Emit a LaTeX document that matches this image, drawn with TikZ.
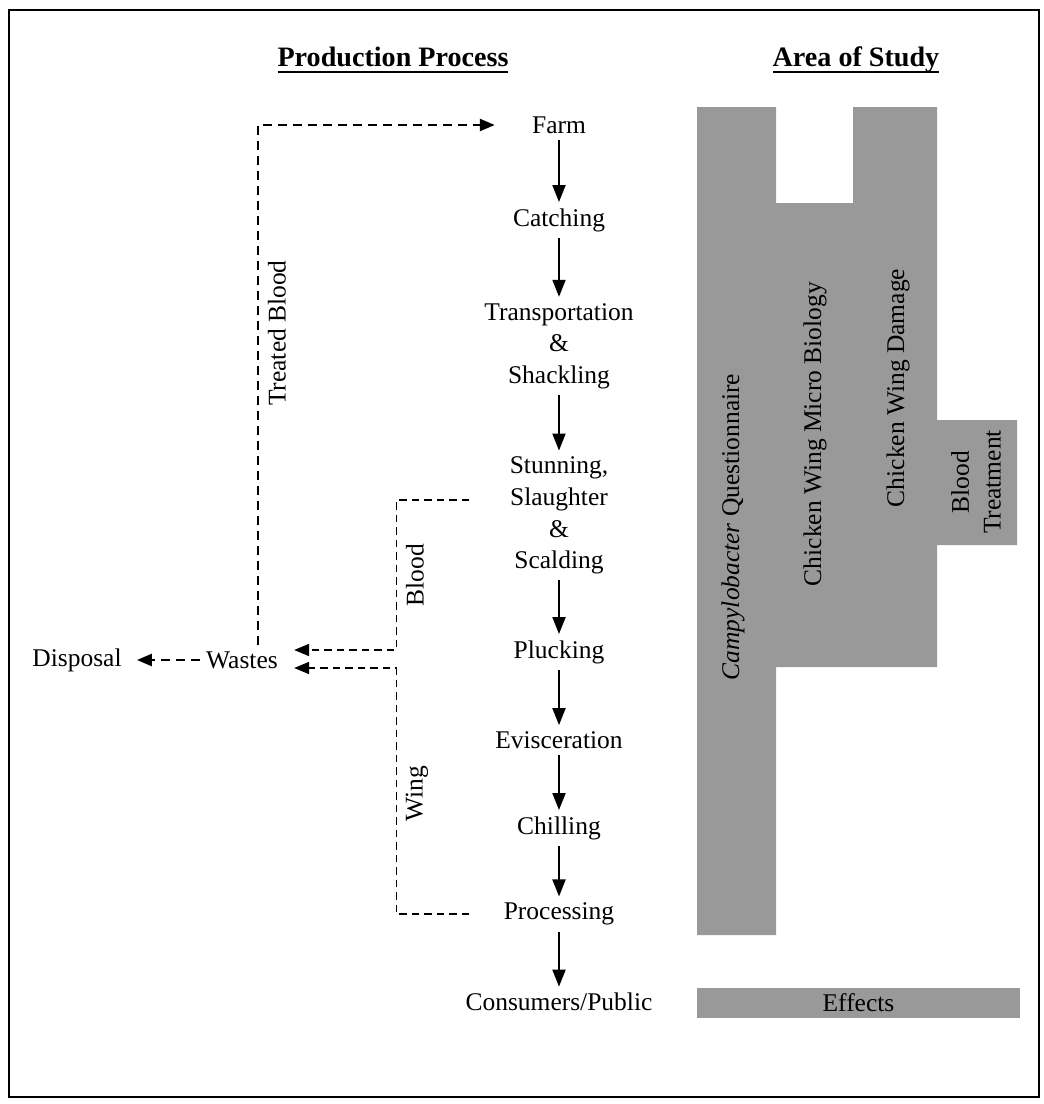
\documentclass[tikz,border=0pt]{standalone}
\usepackage{fontspec}
\setmainfont{Liberation Serif}
\usetikzlibrary{calc}
\usetikzlibrary{positioning}
\usetikzlibrary{arrows.meta}
\tikzstyle{stepnode} = [align=center, font=\fontsize{14.5}{18}\selectfont, inner sep=0.12cm]
\tikzstyle{headnode} = [font=\fontsize{16}{19}\selectfont\bfseries, inner sep=0pt]
\tikzstyle{flowarrow} = [line width=1.1pt, >={Triangle[length=0.34cm,width=0.26cm]}, ->]
\tikzstyle{wastearrow} = [line width=1.5pt, dash pattern=on 0.18cm off 0.12cm, >={Triangle[length=0.3cm,width=0.24cm]}, ->]
\tikzstyle{sidelabel} = [stepnode, rotate=90, anchor=north, inner sep=0.17cm]
\tikzstyle{studyarea} = [fill=black!40]
\tikzstyle{studytext} = [stepnode, rotate=90]
\newcommand{\headul}[1]{\setbox0=\hbox{#1}\rlap{\rule[-3.5pt]{\wd0}{1.3pt}}\box0}

\begin{document}
\begin{tikzpicture}
    \useasboundingbox (0,0) rectangle (20.86,-22.08);
    \draw[line width=1.2pt] (0.18,-0.2) rectangle (20.78,-21.94);

    \node[headnode] (prod_head) at (7.86,-1.2) {\headul{Production Process}};
    \node[headnode] (area_head) at (17.12,-1.2) {\headul{Area of Study}};

    \node[stepnode] (proc_farm) at (11.18,-2.5) {Farm};
    \node[stepnode] (proc_catch) at ($(proc_farm)+(0,-1.9)$) {Catching};
    \node[stepnode] (proc_transport) at ($(proc_catch)+(0,-2.52)$) {Transportation\\\&\\Shackling};
    \node[stepnode] (proc_stun) at ($(proc_transport)+(0,-3.39)$) {Stunning,\\Slaughter\\\&\\Scalding};
    \node[stepnode] (proc_pluck) at ($(proc_stun)+(0,-2.73)$) {Plucking};
    \node[stepnode] (proc_evisc) at ($(proc_pluck)+(0,-1.76)$) {Evisceration};
    \node[stepnode] (proc_chill) at ($(proc_evisc)+(0,-1.76)$) {Chilling};
    \node[stepnode] (proc_processing) at ($(proc_chill)+(0,-1.72)$) {Processing};
    \node[stepnode] (proc_public) at ($(proc_processing)+(0,-1.76)$) {Consumers/Public};
    \draw[flowarrow] (proc_farm) -- (proc_catch);
    \draw[flowarrow] (proc_catch) -- (proc_transport);
    \draw[flowarrow] (proc_transport) -- (proc_stun);
    \draw[flowarrow] (proc_stun) -- (proc_pluck);
    \draw[flowarrow] (proc_pluck) -- (proc_evisc);
    \draw[flowarrow] (proc_evisc) -- (proc_chill);
    \draw[flowarrow] (proc_chill) -- (proc_processing);
    \draw[flowarrow] (proc_processing) -- (proc_public);

    \node[stepnode] (waste_wastes) at (4.84,-13.2) {Wastes};
    \node[stepnode] (waste_disposal) at ($(waste_wastes)+(-3.3,0)$) {Disposal};
    \coordinate (blood_out) at ($(proc_stun.west)+(-0.68,0.31)$);
    \coordinate (wing_out) at ($(proc_processing.west)+(-0.56,0)$);
    \draw[wastearrow] (waste_wastes.west) -- ([xshift=0.18cm]waste_disposal.east);
    \draw[wastearrow] ([xshift=0.32cm]waste_wastes.north) |- node[sidelabel, pos=0.3] {Treated Blood} ([xshift=-0.62cm]proc_farm.west);
    \draw[wastearrow, line width=1pt, dash pattern=on 0.15cm off 0.1cm] (blood_out) -- ++(-1.46,0) |- node[sidelabel, pos=0.25] {Blood} ($(waste_wastes.east)+(0.2,0.2)$);
    \draw[wastearrow, line width=1pt, dash pattern=on 0.15cm off 0.1cm] (wing_out) -- ++(-1.46,0) |- node[sidelabel, pos=0.245] {Wing} ($(waste_wastes.east)+(0.2,-0.16)$);

    \fill[studyarea] (13.94,-2.14) -- (15.52,-2.14) -- (15.52,-4.06) -- (17.06,-4.06) -- (17.06,-2.14) -- (18.74,-2.14) -- (18.74,-8.4) -- (20.34,-8.4) -- (20.34,-10.9) -- (18.74,-10.9) -- (18.74,-13.34) -- (15.52,-13.34) -- (15.52,-18.7) -- (13.94,-18.7) -- cycle;
    \node[studytext] (area_campy) at (14.66,-10.54) {\textit{Campylobacter} Questionnaire};
    \node[studytext] (area_microbio) at (16.3,-8.68) {Chicken Wing Micro Biology};
    \node[studytext] (area_damage) at (17.96,-7.76) {Chicken Wing Damage};
    \node[studytext] (area_bloodtreat) at (19.52,-9.64) {Blood\\Treatment};
    \node[stepnode, studyarea, minimum width=6.46cm, minimum height=0.6cm] (area_effects) at (17.17,-20.06) {Effects};
\end{tikzpicture}
\end{document}
